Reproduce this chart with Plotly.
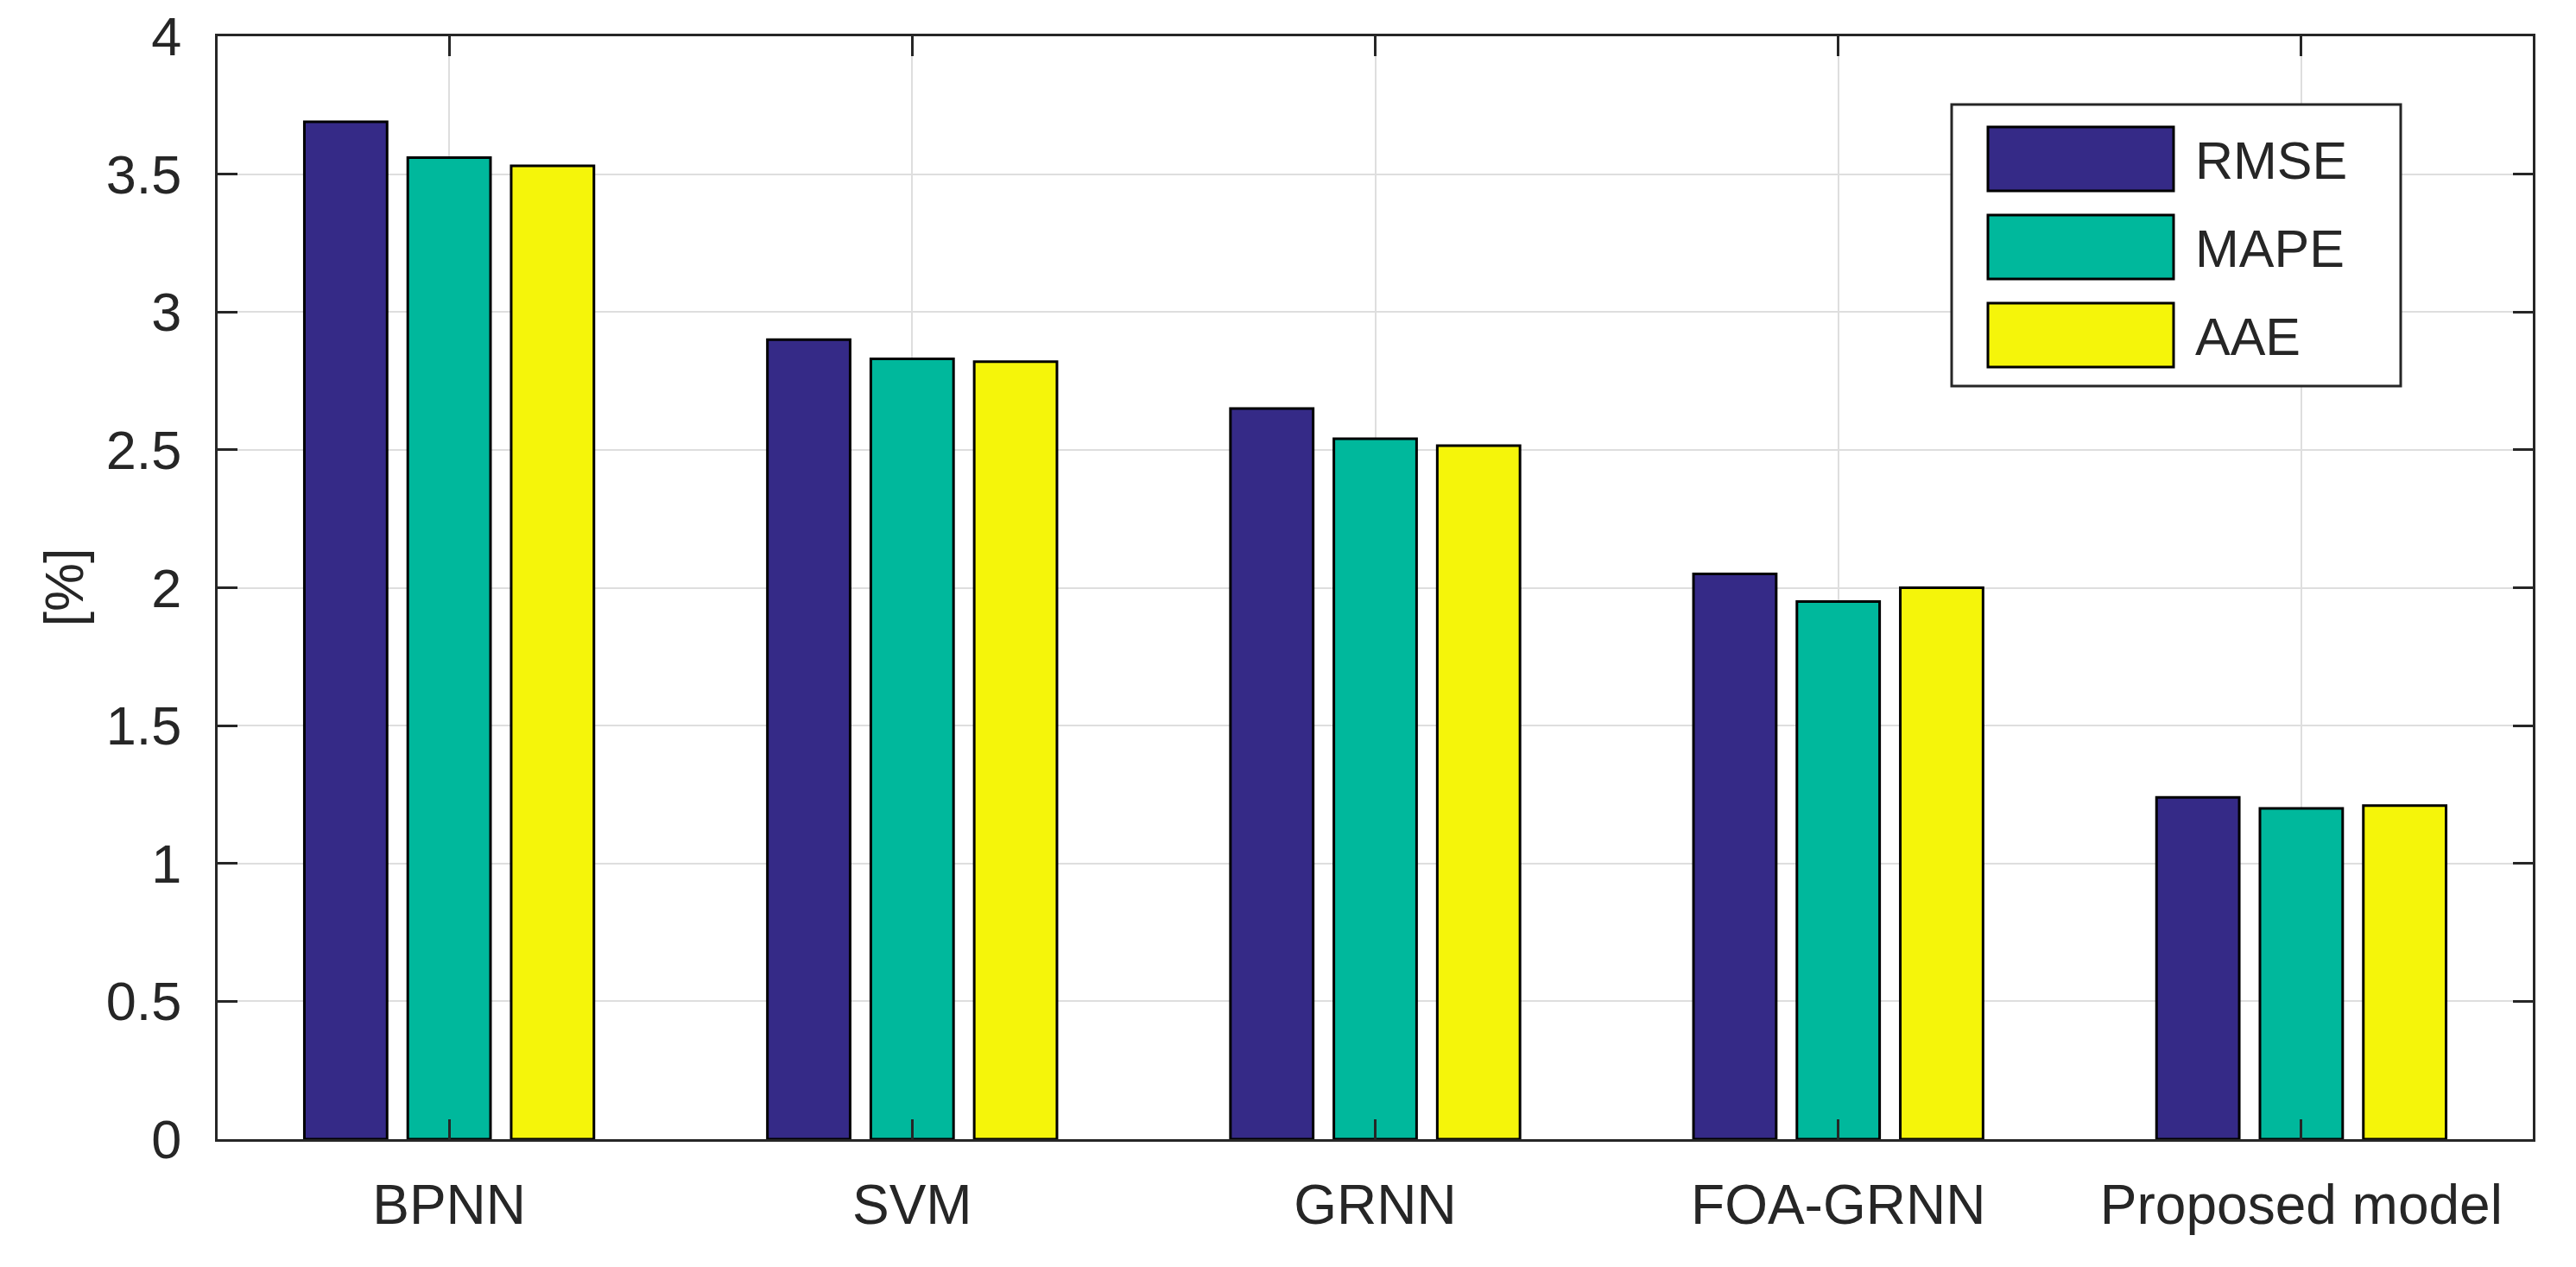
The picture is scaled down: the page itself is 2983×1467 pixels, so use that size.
import plotly.graph_objects as go

categories = ["BPNN", "SVM", "GRNN", "FOA-GRNN", "Proposed model"]
series_names = ["RMSE", "MAPE", "AAE"]
rmse = [3.69, 2.90, 2.65, 2.05, 1.24]
mape = [3.56, 2.83, 2.54, 1.95, 1.20]
aae = [3.53, 2.82, 2.515, 2.00, 1.21]
colors = ["#352A87", "#00B89C", "#F5F50A"]
y_ticks = [0, 0.5, 1, 1.5, 2, 2.5, 3, 3.5, 4]
y_label = "[%]"

W, H = 2983, 1467
OFF = 8  # default page body margin
L, R, T, B = 244, 58, 34, 156
FONT = "Liberation Sans, Arial, sans-serif"
TXT = "#262626"

fig = go.Figure()
for name, vals, col in zip(series_names, [rmse, mape, aae], colors):
    fig.add_trace(go.Bar(
        x=categories, y=vals, name=name,
        marker=dict(color=col, line=dict(color="black", width=3)),
        showlegend=False,
    ))

fig.update_layout(
    width=W, height=H,
    margin=dict(l=L, r=R, t=T, b=B, autoexpand=False),
    paper_bgcolor="white", plot_bgcolor="white",
    barmode="group", bargap=0.33, bargroupgap=0.2,
    font=dict(family=FONT, size=63, color=TXT),
)
fig.update_xaxes(
    type="category", range=[-0.5, 4.5], automargin=False,
    showline=True, linecolor=TXT, linewidth=3, mirror="ticks",
    ticks="inside", ticklen=23, tickwidth=3, tickcolor=TXT,
    showgrid=True, gridcolor="#DEDEDE", gridwidth=2,
    tickfont=dict(family=FONT, size=64, color=TXT),
    ticklabelstandoff=18, ticklabeloverflow="allow",
)
fig.update_yaxes(
    range=[0, 4], tickvals=y_ticks, automargin=False,
    showline=True, linecolor=TXT, linewidth=3, mirror="ticks",
    ticks="inside", ticklen=23, tickwidth=3, tickcolor=TXT,
    showgrid=True, gridcolor="#DEDEDE", gridwidth=2,
    zeroline=False,
    tickfont=dict(family=FONT, size=63, color=TXT),
    ticklabelstandoff=26, ticklabeloverflow="allow",
)

pw, ph = W - L - R, H - T - B
def px(x):
    return (x - OFF - L) / pw
def py(y):
    return (H - B - (y - OFF)) / ph

fig.add_annotation(
    text=y_label, xref="paper", yref="paper", x=px(73), y=0.5,
    xanchor="center", yanchor="middle", textangle=-90, showarrow=False,
    font=dict(family=FONT, size=63, color=TXT),
)

# legend box (drawn manually to match large swatches)
fig.add_shape(type="rect", xref="paper", yref="paper",
              x0=px(2260), x1=px(2780), y0=py(447), y1=py(121),
              line=dict(color=TXT, width=3), fillcolor="white", layer="above")
row_centers = [184, 286, 388]
for name, col, cy in zip(series_names, colors, row_centers):
    fig.add_shape(type="rect", xref="paper", yref="paper",
                  x0=px(2302), x1=px(2517), y0=py(cy + 37), y1=py(cy - 37),
                  line=dict(color="black", width=3), fillcolor=col, layer="above")
    fig.add_annotation(text=name, xref="paper", yref="paper",
                       x=px(2540), y=py(cy + 2), xanchor="left", yanchor="middle",
                       showarrow=False,
                       font=dict(family=FONT, size=61, color=TXT))

fig.write_html("out.html")
